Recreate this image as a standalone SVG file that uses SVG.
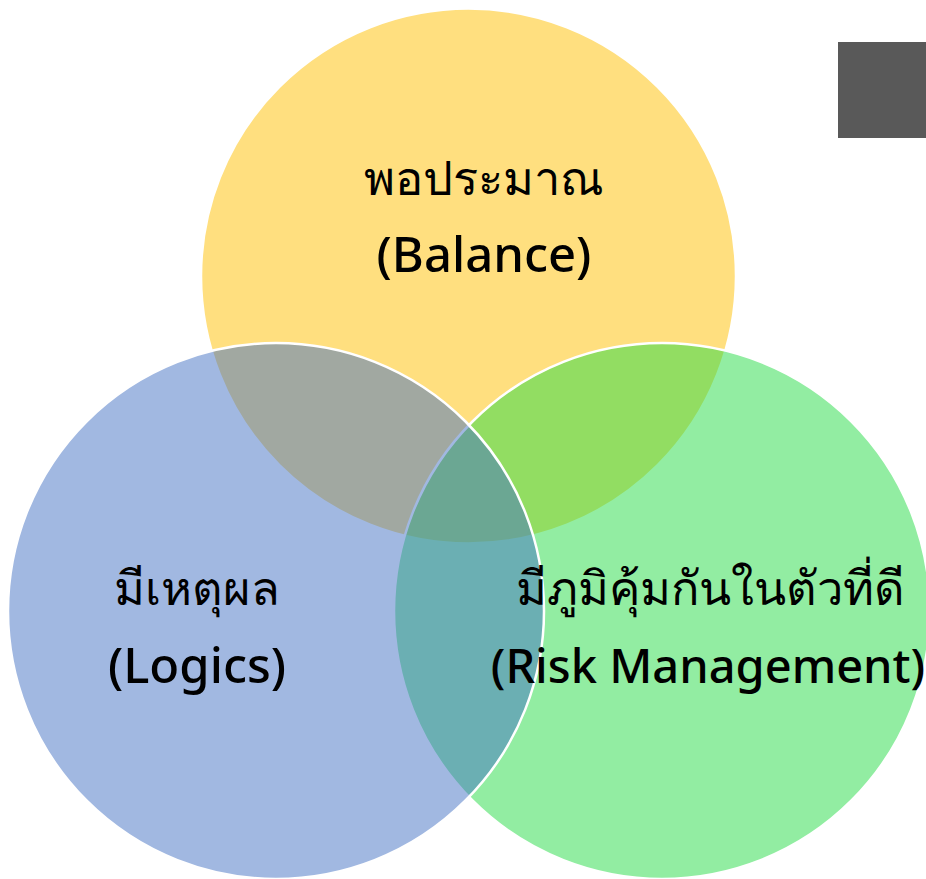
<svg xmlns="http://www.w3.org/2000/svg" width="926" height="879" viewBox="0 0 926 879">
<style>
.c{stroke:#ffffff;stroke-width:2.5;fill-opacity:0.5}
.t{font-family:"Noto Sans","DejaVu Sans",sans-serif;font-size:47px;font-weight:500;fill:#000000;text-anchor:middle}
.e{font-size:49px}
</style>
<rect x="0" y="0" width="926" height="879" fill="#ffffff"/>
<g id="node-balance">
<circle class="c" cx="468.5" cy="276" r="267.5" fill="#FFC000"/>
</g>
<g id="node-risk">
<circle class="c" cx="662" cy="611" r="268" fill="#25DB45"/>
</g>
<g id="node-logics">
<circle class="c" cx="276" cy="611" r="268" fill="#4472C4"/>
</g>
<g id="node-balance-label">
<text class="t" x="484" y="195">พอประมาณ</text>
<text class="t e" x="484" y="272">(Balance)</text>
</g>
<g id="node-risk-label">
<text class="t" x="710" y="605">มีภูมิคุ้มกันในตัวที่ดี</text>
<text class="t" x="708" y="683" style="font-size:47px">(Risk Management)</text>
</g>
<g id="node-logics-label">
<text class="t" x="197" y="605">มีเหตุผล</text>
<text class="t e" x="197" y="683">(Logics)</text>
</g>
<g id="node-box">
<rect x="838" y="42" width="88" height="96" fill="#595959"/>
</g>
<g id="connectors"></g>
</svg>
